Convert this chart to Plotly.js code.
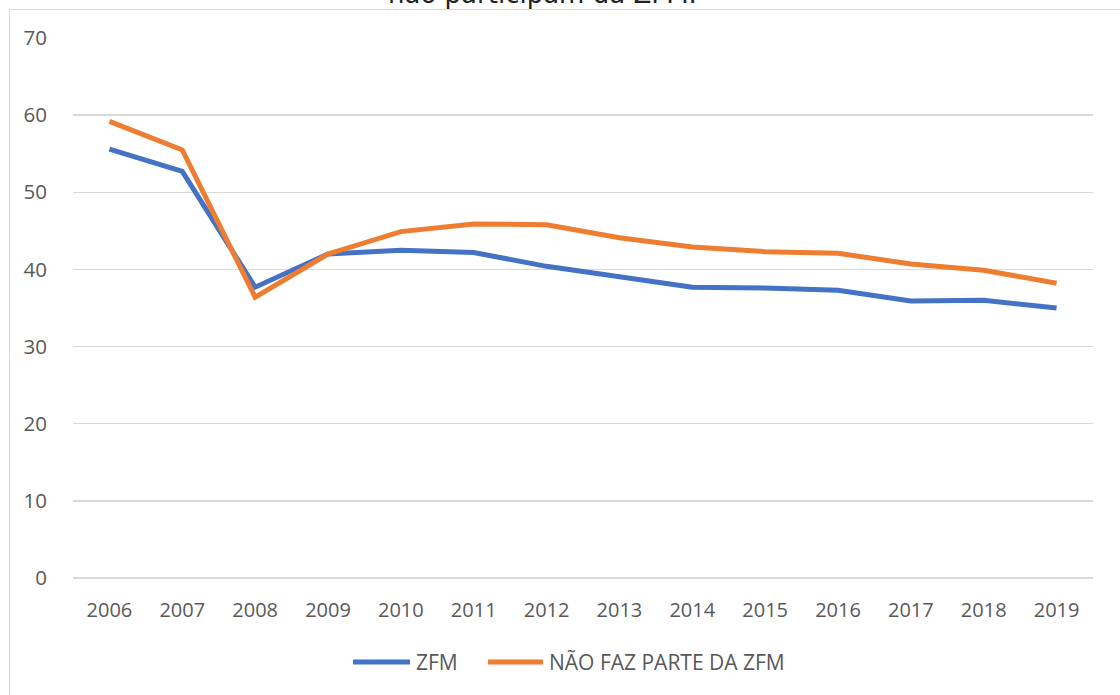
<!DOCTYPE html>
<html>
<head>
<meta charset="utf-8">
<script src="https://cdn.plot.ly/plotly-3.0.1.min.js"></script>
<style>
  html, body { margin: 0; padding: 0; background: #fff; }
  #wrap { position: relative; width: 1120px; height: 695px; overflow: hidden; }
  #chart { position: absolute; left: 0; top: 0; width: 1120px; height: 695px; }
  #frame { position: absolute; left: 9px; top: 9px; width: 1140px; height: 720px;
           border: 1px solid #d9d9d9; pointer-events: none; }
</style>
</head>
<body>
<div id="wrap">
  <div id="frame"></div>
  <div id="chart"></div>
</div>
<script>
const years = ['2006','2007','2008','2009','2010','2011','2012','2013','2014','2015','2016','2017','2018','2019'];
const zfm = [55.6, 52.7, 37.7, 42.0, 42.5, 42.2, 40.4, 39.0, 37.7, 37.6, 37.3, 35.9, 36.0, 35.0];
const naoZfm = [59.2, 55.5, 36.4, 42.0, 44.9, 45.9, 45.8, 44.1, 42.9, 42.3, 42.1, 40.7, 39.9, 38.2];
const yTicks = [0, 10, 20, 30, 40, 50, 60, 70];
const seriesNames = ['ZFM', 'NÃO FAZ PARTE DA ZFM'];
const seriesColors = ['#4472C4', '#ED7D31'];
const captionText = 'não participam da ZFM.';

const traces = [
  { x: years, y: zfm, type: 'scatter', mode: 'lines', name: seriesNames[0],
    line: { color: seriesColors[0], width: 5, shape: 'linear' } },
  { x: years, y: naoZfm, type: 'scatter', mode: 'lines', name: seriesNames[1],
    line: { color: seriesColors[1], width: 5, shape: 'linear' } }
];

// custom legend (longer line samples, like the reference)
const legY = -0.1556;
const legItems = [
  { x0: 0.2745, x1: 0.3304, tx: 0.3343 },
  { x0: 0.4069, x1: 0.4608, tx: 0.4647 }
];
const shapes = legItems.map((it, i) => ({
  type: 'line', xref: 'paper', yref: 'paper', x0: it.x0, x1: it.x1, y0: legY, y1: legY,
  line: { color: seriesColors[i], width: 5 }, layer: 'above'
}));
const legAnn = legItems.map((it, i) => ({
  text: seriesNames[i], xref: 'paper', yref: 'paper', x: it.tx, y: legY,
  xanchor: 'left', yanchor: 'middle', showarrow: false,
  font: { family: 'Open Sans, sans-serif', size: 21, color: '#595959' }
}));

const layout = {
  width: 1120, height: 695,
  margin: { l: 73, r: 27, t: 38, b: 117 },
  paper_bgcolor: 'rgba(0,0,0,0)', plot_bgcolor: 'rgba(0,0,0,0)',
  showlegend: false,
  xaxis: { type: 'category', showgrid: false, zeroline: false, showline: false,
           ticks: 'outside', ticklen: 14, tickcolor: 'rgba(0,0,0,0)',
           tickfont: { family: 'Open Sans, sans-serif', size: 20, color: '#595959' },
           range: [-0.5, 13.5] },
  yaxis: { range: [0, 70], tickvals: yTicks, ticktext: yTicks.map(String),
           showgrid: true, gridcolor: '#d9d9d9', gridwidth: 1.5,
           zeroline: true, zerolinecolor: '#d9d9d9', zerolinewidth: 1.5, showline: false,
           ticks: 'outside', ticklen: 21, tickcolor: 'rgba(0,0,0,0)',
           tickfont: { family: 'Open Sans, sans-serif', size: 20.5, color: '#595959' } },
  shapes: shapes,
  annotations: [
    { text: captionText, xref: 'paper', yref: 'paper', x: 0.46, y: 1, xanchor: 'center',
      yanchor: 'bottom', yshift: 27, showarrow: false,
      font: { family: 'DejaVu Sans, sans-serif', size: 26, color: '#222' } }
  ].concat(legAnn)
};

Plotly.newPlot('chart', traces, layout, { displayModeBar: false, staticPlot: true });
</script>
</body>
</html>
